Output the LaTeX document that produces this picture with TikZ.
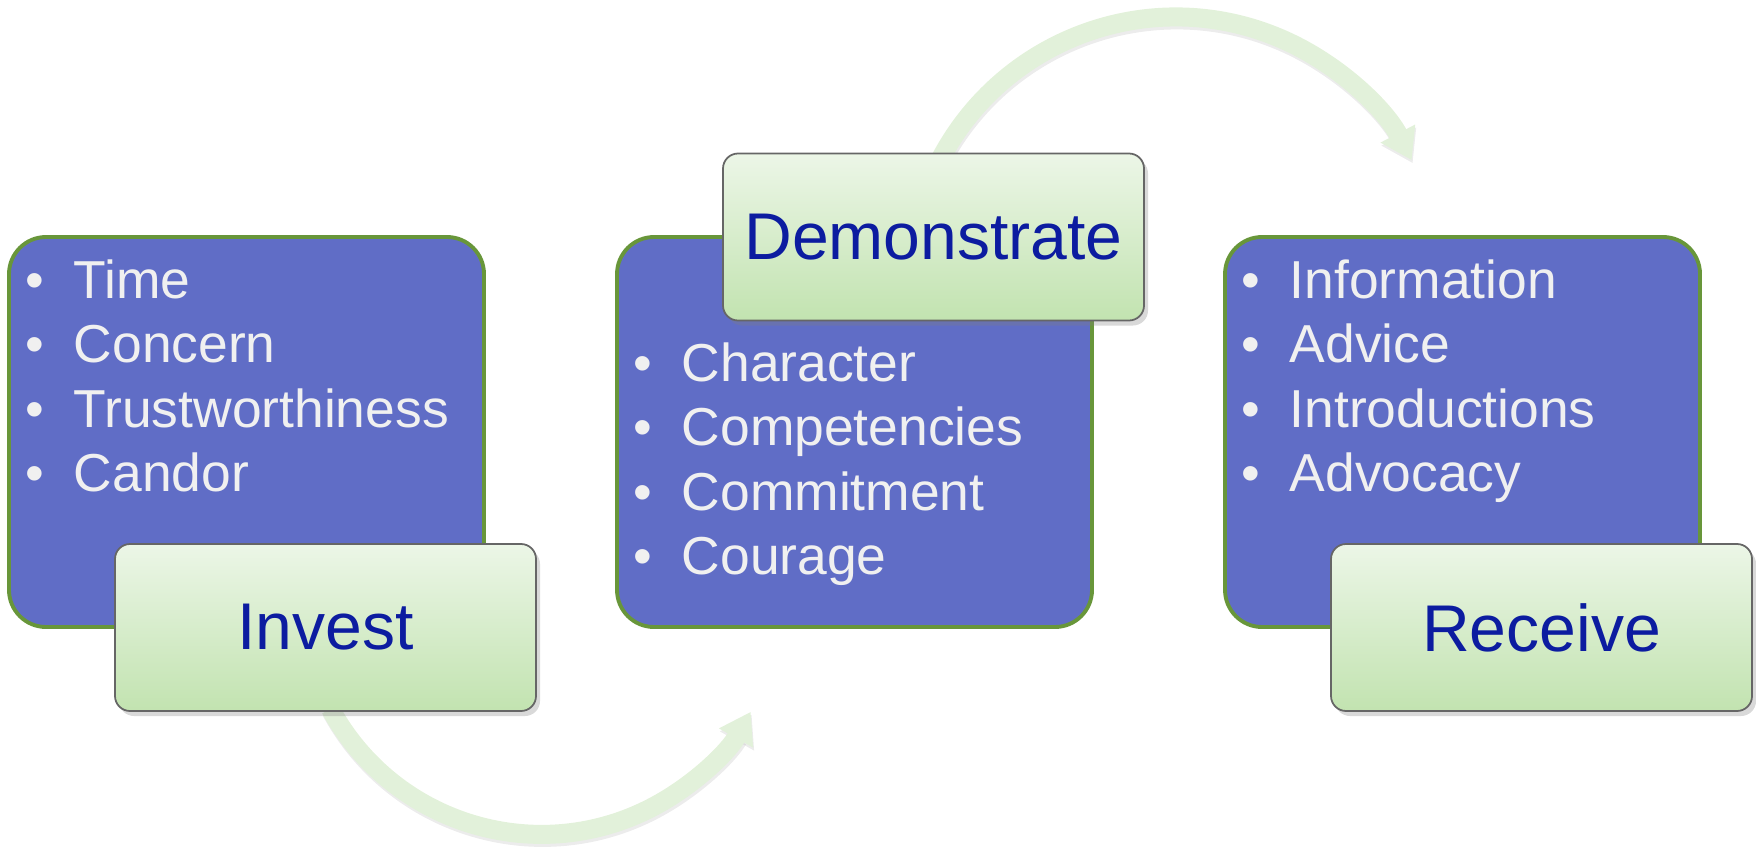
\documentclass[tikz,border=0pt]{standalone}
\usepackage{fontspec}
\setmainfont{Liberation Sans}
\usetikzlibrary{arrows.meta,shadows,backgrounds}

\definecolor{listblue}{RGB}{96,109,198}
\definecolor{listedge}{RGB}{104,150,58}
\definecolor{tagtop}{RGB}{236,246,231}
\definecolor{tagbottom}{RGB}{194,227,176}
\definecolor{tagtext}{RGB}{12,28,160}
\definecolor{itemtext}{RGB}{240,240,240}
\definecolor{flowgreen}{RGB}{226,241,218}

\newcommand{\itembullet}{\makebox[0.48cm][l]{\textbullet}}

\begin{document}
\begin{tikzpicture}[
    listbox/.style={%
      draw=listedge,
      line width=1.1pt,
      fill=listblue,
      rounded corners=0.37cm,
      minimum width=4.75cm,
      minimum height=3.9cm,
      inner sep=0pt,
    },
    tag/.style={%
      draw=gray!80!black,
      line width=0.5pt,
      top color=tagtop,
      bottom color=tagbottom,
      rounded corners=0.15cm,
      minimum width=4.21cm,
      minimum height=1.67cm,
      inner sep=0pt,
      text=tagtext,
      font=\fontsize{18.8}{22}\selectfont,
      drop shadow={shadow xshift=0.04cm,shadow yshift=-0.05cm,opacity=0.3},
    },
    item/.style={%
      anchor=base west,
      inner sep=0pt,
      text=itemtext,
      font=\fontsize{15.2}{18}\selectfont,
    },
    flow/.style={%
      line width=0.19cm,
      draw=flowgreen,
      -{Triangle[width=0.37cm,length=0.3cm]},
    },
    flowshadow/.style={%
      line width=0.19cm,
      draw=black!30,
      opacity=0.25,
      -{Triangle[width=0.37cm,length=0.3cm]},
    },
  ]

    \useasboundingbox (0,0) rectangle (17.56,8.48);

    \node [listbox] (L1) at (2.465,4.16) {};
    \path (L1) ++(6.08,0) node [listbox] (L2) {};
    \path (L2) ++(6.08,0) node [listbox] (L3) {};

    \foreach \txt [count=\i] in {Time,Concern,Trustworthiness,Candor}
      \node [item] (L1-\i) at ([xshift=0.18cm,yshift={-0.63cm-(\i-1)*0.645cm}]L1.north west) {\itembullet\txt};
    \foreach \txt [count=\i] in {Character,Competencies,Commitment,Courage}
      \node [item] (L2-\i) at ([xshift=0.18cm,yshift={-1.46cm-(\i-1)*0.645cm}]L2.north west) {\itembullet\txt};
    \foreach \txt [count=\i] in {Information,Advice,Introductions,Advocacy}
      \node [item] (L3-\i) at ([xshift=0.18cm,yshift={-0.63cm-(\i-1)*0.645cm}]L3.north west) {\itembullet\txt};

    \path (L1) ++(0.79,-1.955) node [tag] (I) {Invest};
    \path (L2) ++(0.79,1.95) node [tag] (D) {Demonstrate};
    \path (L3) ++(0.79,-1.955) node [tag] (R) {Receive};

    \begin{scope}[on background layer]
      \draw [flowshadow] ([xshift=0.06cm,yshift=0.0cm]I.south) arc[start angle=208.5,end angle=330.7,radius=2.4];
      \draw [flow] ([xshift=0.05cm,yshift=0.03cm]I.south) arc[start angle=208.5,end angle=330.7,radius=2.4];
      \draw [flowshadow] ([xshift=0.06cm,yshift=-0.13cm]D.north) arc[start angle=153.1,end angle=27.5,radius=2.66];
      \draw [flow] ([xshift=0.05cm,yshift=-0.1cm]D.north) arc[start angle=153.1,end angle=27.5,radius=2.66];
    \end{scope}
\end{tikzpicture}
\end{document}
